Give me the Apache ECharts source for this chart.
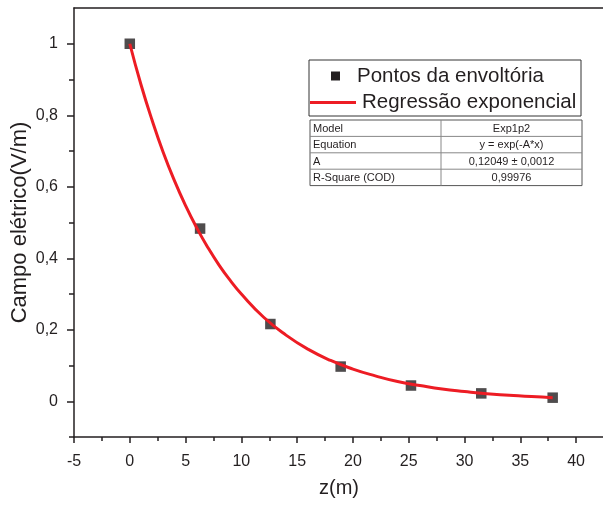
<!DOCTYPE html>
<html>
<head>
<meta charset="utf-8">
<script src="https://cdn.jsdelivr.net/npm/echarts@6/dist/echarts.min.js"></script>
<style>html,body{margin:0;padding:0;background:#fff}#c{width:603px;height:508px}</style>
</head>
<body>
<div id="c"></div>
<script>
// ---- data ----
var pointX = [0, 6.3, 12.6, 18.9, 25.2, 31.5, 37.9];
var pointY = [1.0, 0.483, 0.216, 0.097, 0.044, 0.022, 0.010];
var curveX = [0, 1, 2, 3, 4, 5, 6, 7, 8, 9, 10, 12, 14, 16, 18, 20, 22, 24, 26, 28, 30, 32, 34, 36, 37.9];
var curveY = [1.0, 0.886, 0.786, 0.696, 0.617, 0.547, 0.485, 0.430, 0.381, 0.338, 0.300, 0.235, 0.185, 0.145, 0.114, 0.090, 0.071, 0.055, 0.044, 0.034, 0.027, 0.021, 0.017, 0.013, 0.010];
var xMajorTicks = [-5, 0, 5, 10, 15, 20, 25, 30, 35, 40];
var xMinorTicks = [-2.5, 2.5, 7.5, 12.5, 17.5, 22.5, 27.5, 32.5, 37.5];
var yMajorTicks = [0, 0.2, 0.4, 0.6, 0.8, 1];
var yMinorTicks = [-0.1, 0.1, 0.3, 0.5, 0.7, 0.9];
var seriesNames = ['Pontos da envoltória', 'Regressão exponencial'];
var tableRows = [
  ['Model', 'Exp1p2'],
  ['Equation', 'y = exp(-A*x)'],
  ['A', '0,12049 ± 0,0012'],
  ['R-Square (COD)', '0,99976']
];

var FONT = 'Liberation Sans, Arial, sans-serif';
var INK = '#231f20';
var RED = '#ed1c24';

var chart = echarts.init(document.getElementById('c'), null, {renderer: 'canvas'});

function fmt(v) { return String(Math.round(v * 100) / 100).replace('.', ','); }

var axisLineStyle = {color: INK, width: 1.5};

var xCommon = {type: 'value', min: -5, max: 42.5, gridIndex: 0, splitLine: {show: false}};
var yCommon = {type: 'value', min: -0.1, max: 1.1, gridIndex: 0, splitLine: {show: false}};

var curveData = curveX.map(function (x, i) { return [x, curveY[i]]; });
var pointData = pointX.map(function (x, i) { return [x, pointY[i]]; });

// legend + table graphics
var g = [];
var LX = 309, LY = 60, LW = 272, LH = 56;
g.push({type: 'rect', shape: {x: LX, y: LY, width: LW, height: LH}, style: {fill: '#fff', stroke: '#333', lineWidth: 1}, z: 10});
g.push({type: 'rect', shape: {x: 331, y: 71.5, width: 9, height: 9}, style: {fill: INK}, z: 11});
g.push({type: 'text', x: 357, y: 76, style: {text: seriesNames[0], font: '20.5px ' + FONT, fill: INK, verticalAlign: 'middle'}, z: 11});
g.push({type: 'line', shape: {x1: 310, y1: 102.5, x2: 356, y2: 102.5}, style: {stroke: RED, lineWidth: 3}, z: 11});
g.push({type: 'text', x: 362, y: 102, style: {text: seriesNames[1], font: '20.5px ' + FONT, fill: INK, verticalAlign: 'middle'}, z: 11});

var TX = 310, TY = 120, TW = 272, RH = 16.4, CX = 441;
g.push({type: 'rect', shape: {x: TX, y: TY, width: TW, height: RH * tableRows.length}, style: {fill: '#fff', stroke: '#555', lineWidth: 1}, z: 10});
for (var r = 1; r < tableRows.length; r++) {
  g.push({type: 'line', shape: {x1: TX, y1: TY + r * RH, x2: TX + TW, y2: TY + r * RH}, style: {stroke: '#888', lineWidth: 1}, z: 11});
}
g.push({type: 'line', shape: {x1: CX, y1: TY, x2: CX, y2: TY + RH * tableRows.length}, style: {stroke: '#888', lineWidth: 1}, z: 11});
tableRows.forEach(function (row, i) {
  var cy = TY + i * RH + RH / 2 + 0.5;
  g.push({type: 'text', x: TX + 3, y: cy, style: {text: row[0], font: '11px ' + FONT, fill: INK, verticalAlign: 'middle'}, z: 12});
  g.push({type: 'text', x: (CX + TX + TW) / 2, y: cy, style: {text: row[1], font: '11px ' + FONT, fill: INK, verticalAlign: 'middle', align: 'center'}, z: 12});
});

var option = {
  animation: false,
  backgroundColor: '#fff',
  grid: {left: 74, top: 8, right: -1, bottom: 71, containLabel: false, outerBoundsMode: 'none'},
  xAxis: [
    Object.assign({}, xCommon, {
      position: 'bottom',
      name: 'z(m)', nameLocation: 'middle', nameGap: 41, nameMoveOverlap: false,
      nameTextStyle: {fontFamily: FONT, fontSize: 20, color: INK},
      axisLine: {show: true, onZero: false, lineStyle: axisLineStyle},
      axisTick: {show: true, length: 6, lineStyle: axisLineStyle, customValues: xMajorTicks},
      axisLabel: {show: true, margin: 17, fontFamily: FONT, fontSize: 16, color: INK, customValues: xMajorTicks, formatter: fmt}
    }),
    Object.assign({}, xCommon, {
      position: 'bottom',
      axisLine: {show: false, onZero: false},
      axisTick: {show: true, length: 4, lineStyle: axisLineStyle, customValues: xMinorTicks},
      axisLabel: {show: false}
    }),
    Object.assign({}, xCommon, {
      position: 'top',
      axisLine: {show: true, onZero: false, lineStyle: axisLineStyle},
      axisTick: {show: false},
      axisLabel: {show: false}
    })
  ],
  yAxis: [
    Object.assign({}, yCommon, {
      position: 'left',
      name: 'Campo elétrico(V/m)', nameLocation: 'middle', nameGap: 43, nameMoveOverlap: false,
      nameTextStyle: {fontFamily: FONT, fontSize: 22, color: INK},
      axisLine: {show: true, onZero: false, lineStyle: axisLineStyle},
      axisTick: {show: true, length: 7, lineStyle: axisLineStyle, customValues: yMajorTicks},
      axisLabel: {show: true, margin: 16, fontFamily: FONT, fontSize: 16, color: INK, customValues: yMajorTicks, formatter: fmt}
    }),
    Object.assign({}, yCommon, {
      position: 'left',
      axisLine: {show: false, onZero: false},
      axisTick: {show: true, length: 5, lineStyle: axisLineStyle, customValues: yMinorTicks},
      axisLabel: {show: false}
    })
  ],
  series: [
    {
      name: seriesNames[0], type: 'scatter', xAxisIndex: 0, yAxisIndex: 0,
      symbol: 'rect', symbolSize: 10.5,
      itemStyle: {color: INK},
      data: pointData, z: 3
    },
    {
      name: seriesNames[1], type: 'line', xAxisIndex: 0, yAxisIndex: 0,
      smooth: true, showSymbol: false,
      lineStyle: {color: RED, width: 3},
      data: curveData, z: 4
    }
  ],
  graphic: g
};
chart.setOption(option);
</script>
</body>
</html>
